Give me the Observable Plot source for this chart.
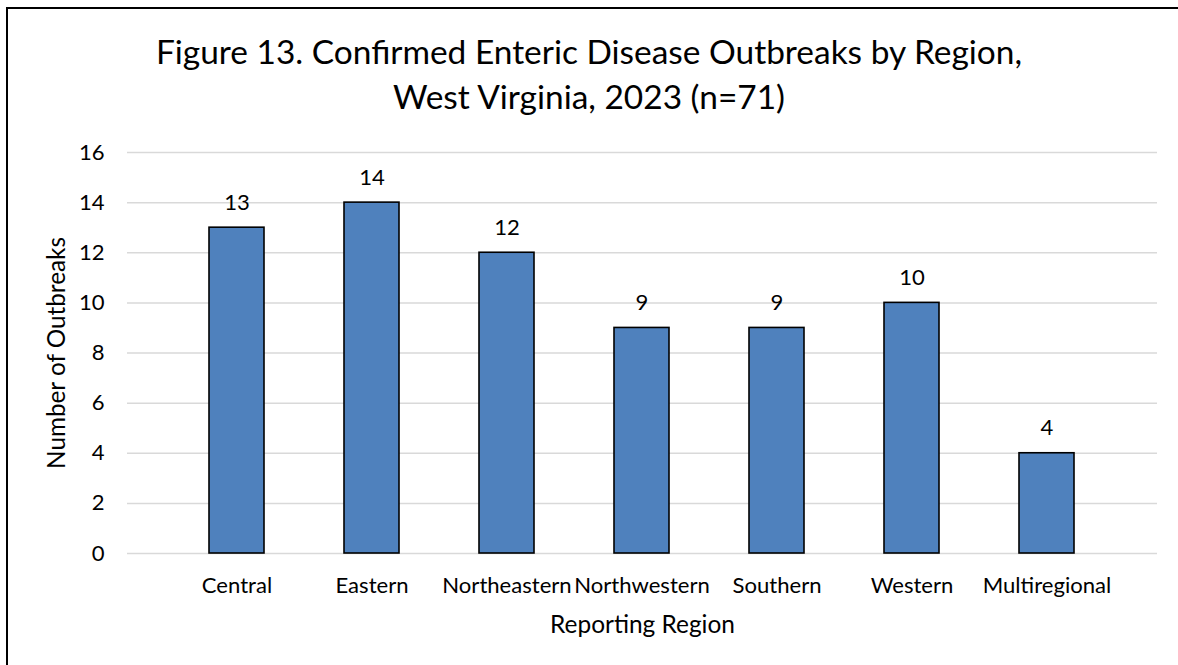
<!DOCTYPE html>
<html>
<head>
<meta charset="utf-8">
<script src="https://cdn.jsdelivr.net/npm/d3@7"></script>
<script src="https://cdn.jsdelivr.net/npm/@observablehq/plot@0.6"></script>
<style>
  html, body { margin: 0; padding: 0; background: #fff; overflow: hidden; }
  #page { position: relative; width: 1178px; height: 665px; overflow: hidden; background: #fff; }
  #frame { position: absolute; left: 6px; top: 7px; width: 1300px; height: 800px;
           border-top: 2px solid #000; border-left: 2px solid #000; pointer-events: none; z-index: 5; }
  #title { position: absolute; left: 0; width: 1178px; text-align: center; color: #000;
           font-family: Lato, "Open Sans", sans-serif; line-height: 45px; white-space: nowrap; }
  #chart { position: absolute; left: 0; top: 130px; }
</style>
</head>
<body>
<div id="page">
  <div id="frame"></div>
  <div id="title"><div>Figure 13. Confirmed Enteric Disease Outbreaks by Region,</div><div>West Virginia, 2023 (n=71)</div></div>
  <div id="chart"></div>
</div>
<script>
// Outbreak counts per reporting region
const regions = ["Central", "Eastern", "Northeastern", "Northwestern", "Southern", "Western", "Multiregional"];
const outbreaks = [13, 14, 12, 9, 9, 10, 4];
const yTicks = [0, 2, 4, 6, 8, 10, 12, 14, 16];
const xTitle = "Reporting Region";
const yTitle = "Number of Outbreaks";

const data = regions.map((region, i) => ({region, count: outbreaks[i]}));

const FAMILY = "Lato";
const ctx = document.createElement("canvas").getContext("2d");
function fitSize(text, target) {
  ctx.font = `100px ${FAMILY}`;
  return 100 * target / ctx.measureText(text).width;
}

// Font sizes chosen so each text run spans its intended width
const titleSize = fitSize("Figure 13. Confirmed Enteric Disease Outbreaks by Region,", 867);
const tickSize = (fitSize("Multiregional", 130) + fitSize("Northwestern", 134)) / 2;
const xTitleSize = fitSize(xTitle, 185);
const yTitleSize = fitSize(yTitle, 233);

const title = document.getElementById("title");
title.style.fontSize = titleSize + "px";
title.style.top = (64 - ((45 - 1.2 * titleSize) / 2 + 0.987 * titleSize)) + "px";

const chart = Plot.plot({
  width: 1178,
  height: 535,
  marginTop: 22,
  marginBottom: 112,
  marginLeft: 127,
  marginRight: 21,
  style: {fontFamily: FAMILY, fontSize: tickSize + "px", color: "#000", background: "transparent"},
  x: {domain: regions, padding: 0.592},
  y: {domain: [0, 16]},
  marks: [
    Plot.gridY(yTicks, {stroke: "#d9d9d9", strokeOpacity: 1, strokeWidth: 1.5}),
    Plot.barY(data, {x: "region", y: "count", fill: "#4f81bd", stroke: "#000", strokeWidth: 1.6}),
    Plot.text(data, {x: "region", y: "count", text: d => String(d.count), dy: -18,
                     lineAnchor: "bottom", fill: "#000", fontSize: tickSize}),
    Plot.axisX({tickSize: 0, tickPadding: 39 - 0.71 * tickSize, label: null, fontSize: tickSize}),
    Plot.axisY(yTicks, {tickSize: 0, tickPadding: 23, label: null, fontSize: tickSize}),
    Plot.text([xTitle], {frameAnchor: "bottom", dy: 79, lineAnchor: "bottom",
                         fontSize: xTitleSize, fill: "#000"}),
    Plot.text([yTitle], {frameAnchor: "left", dx: -70, rotate: -90, lineAnchor: "middle",
                         textAnchor: "middle", fontSize: yTitleSize, fill: "#000"})
  ]
});

document.getElementById("chart").appendChild(chart);
</script>
</body>
</html>
